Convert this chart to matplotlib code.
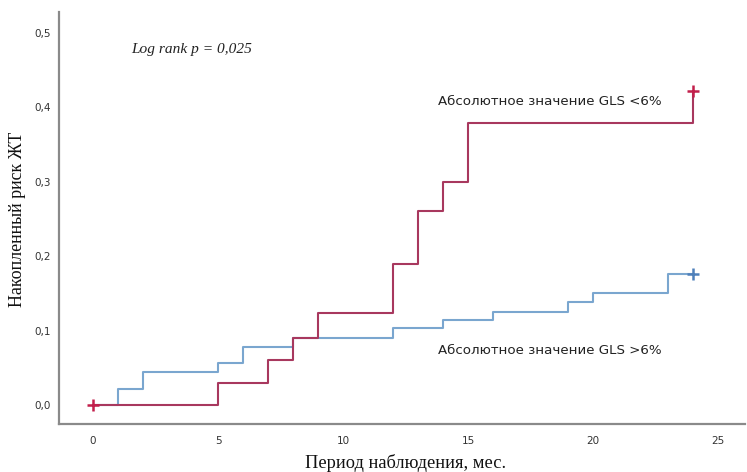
import matplotlib
matplotlib.use("Agg")
import matplotlib.pyplot as plt

# Data (cumulative risk, step functions)
red_t = [0, 5, 7, 8, 9, 12, 13, 14, 15, 24]
red_v = [0.0, 0.029, 0.060, 0.090, 0.123, 0.190, 0.261, 0.299, 0.379, 0.422]
blue_t = [0, 1, 2, 5, 6, 8, 12, 14, 16, 19, 20, 23, 24]
blue_v = [0.0, 0.022, 0.044, 0.056, 0.078, 0.090, 0.103, 0.114, 0.125, 0.139, 0.151, 0.176, 0.176]
red_cens_t = [0, 24]
red_cens_v = [0.0, 0.422]
blue_cens_t = [24]
blue_cens_v = [0.176]

xticks = [0, 5, 10, 15, 20, 25]
xticklabels = ["0", "5", "10", "15", "20", "25"]
yticks = [0.0, 0.1, 0.2, 0.3, 0.4, 0.5]
yticklabels = ["0,0", "0,1", "0,2", "0,3", "0,4", "0,5"]

label_lt = "Абсолютное значение GLS <6%"
label_gt = "Абсолютное значение GLS >6%"
logrank = "Log rank p = 0,025"
xlabel = "Период наблюдения, мес."
ylabel = "Накопленный риск ЖТ"

red_c = "#A8385E"
red_m = "#C21F4B"
blue_c = "#7AA6CF"
blue_m = "#4F80BA"

fig = plt.figure(figsize=(7.47, 4.72), dpi=100)
ax = fig.add_axes([59 / 747, 1 - 424 / 472, (745 - 59) / 747, (424 - 12) / 472])

ax.step(blue_t, blue_v, where="post", color=blue_c, lw=1.5, zorder=2)
ax.step(red_t, red_v, where="post", color=red_c, lw=1.5, zorder=3)
ax.plot(blue_cens_t, blue_cens_v, ls="none", marker="+", ms=8, mew=1.8, color=blue_m, zorder=4)
ax.plot(red_cens_t, red_cens_v, ls="none", marker="+", ms=8, mew=1.8, color=red_m, zorder=5)

ax.set_xlim(-1.36, 26.08)
ax.set_ylim(-0.0255, 0.528)
ax.set_xticks(xticks)
ax.set_xticklabels(xticklabels)
ax.set_yticks(yticks)
ax.set_yticklabels(yticklabels)
ax.tick_params(length=0, labelsize=7.5, colors="#333333")
ax.tick_params(axis="x", pad=9)
ax.tick_params(axis="y", pad=6)

for s in ["top", "right"]:
    ax.spines[s].set_visible(False)
for s in ["left", "bottom"]:
    ax.spines[s].set_color("#8a8a8a")
    ax.spines[s].set_linewidth(1.6)

ax.text(1.53, 0.478, logrank, family="Liberation Serif", style="italic",
        fontsize=11.1, ha="left", va="center", color="#222222")
ax.text(13.8, 0.408, label_lt, family="DejaVu Sans", fontsize=9.6,
        ha="left", va="center", color="#222222")
ax.text(13.8, 0.0727, label_gt, family="DejaVu Sans", fontsize=9.6,
        ha="left", va="center", color="#222222")

fig.text(406 / 747, 1 - 468 / 472, xlabel, family="Liberation Serif",
         fontsize=13.2, ha="center", va="baseline", color="#111111")
fig.text(18 / 747, 1 - 219 / 472, ylabel, family="Liberation Serif",
         fontsize=12.9, ha="center", va="center", rotation=90, color="#111111")

fig.savefig("out.png", dpi=100)
